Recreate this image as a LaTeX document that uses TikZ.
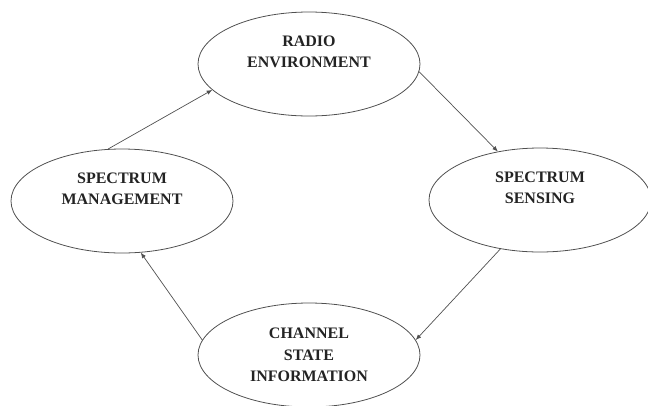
\documentclass[tikz,border=0pt]{standalone}
\usepackage{fontspec}
\setmainfont{Liberation Serif}
\usepackage{xcolor}
\usepackage{tikz}
\usetikzlibrary{arrows.meta,shapes.geometric}
\definecolor{cyline}{RGB}{80,80,80}
\definecolor{cytext}{RGB}{35,35,35}

\begin{document}
\begin{tikzpicture}[
  x=1pt, y=-1pt,
  phase/.style={draw=cyline, ellipse, line width=0.8pt, align=center,
                font=\fontsize{16}{21.5}\selectfont\bfseries, text=cytext,
                minimum width=222pt, minimum height=104pt, inner sep=0pt},
  arr/.style={-{Latex[length=5.5pt,width=4.5pt]}, line width=0.7pt, cyline}
]
\useasboundingbox (0,0) rectangle (648,405);
\node[phase] (radio)   at (309,64)  {RADIO\\ ENVIRONMENT\\[3pt]};
\node[phase] (sensing) at (540,200) {SPECTRUM\\ SENSING\\[3pt]};
\node[phase] (chan)    at (309,355) {CHANNEL\\ STATE\\ INFORMATION};
\node[phase] (mgmt)    at (122,201) {SPECTRUM\\ MANAGEMENT\\[3pt]};
\draw[arr] (mgmt.105) -- (radio.195);
\draw[arr] (radio.356) -- (sensing.131);
\draw[arr] (sensing.231) -- (chan.8);
\draw[arr] (chan.172) -- (mgmt.290);
\end{tikzpicture}
\end{document}
